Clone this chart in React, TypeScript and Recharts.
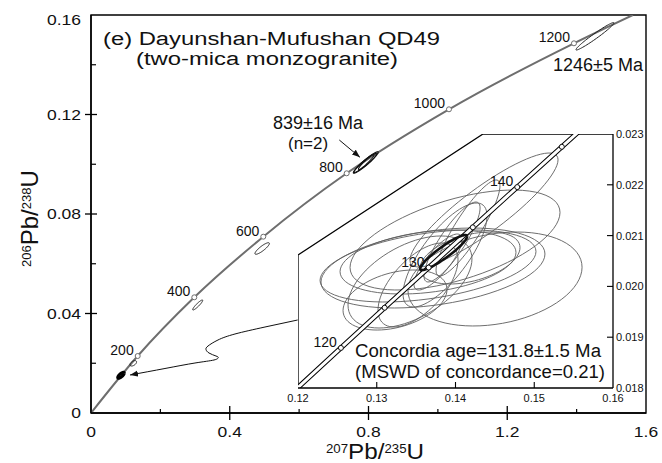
import React from 'react';
import { ComposedChart, Line, Scatter, XAxis, YAxis, ReferenceArea } from 'recharts';

const FONT = '"Liberation Sans", Arial, Helvetica, sans-serif';
const W = 662;
const H = 463;

// ---- main diagram: concordia as drawn, with its age marks ----
const curveX = [0, 0.1346, 0.2978, 0.4967, 0.7371, 1.032, 1.3923, 1.5624];
const curveY = [0, 0.02291, 0.04651, 0.07088, 0.09636, 0.12209, 0.14862, 0.16];
const curveAges = [null, 200, 400, 600, 800, 1000, 1200, null];

// error ellipses: [207/235, 206/238, sigma x, sigma y, rho]
const mainSpots = [
  [0.1219, 0.01998, 0.0095, 0.00109, 0.5],
  [0.3076, 0.04342, 0.0144, 0.00201, 0.92],
  [0.4935, 0.06613, 0.0208, 0.00233, 0.87],
  [1.4529, 0.15144, 0.0548, 0.00551, 0.974],
];
const group839 = [
  [0.7922, 0.1007, 0.036, 0.00434, 0.955],
  [0.787, 0.1003, 0.0288, 0.00362, 0.95],
  [0.797, 0.1011, 0.0259, 0.00322, 0.94],
];
const youngCluster = [0.0865, 0.01516, 0.0095, 0.0012, 0.75];

// pointer from the inset down to the young cluster
const pointerX = [0.5958, 0.5016, 0.4151, 0.3661, 0.3373, 0.3315, 0.3402, 0.3603, 0.367, 0.3546, 0.2998, 0.2133, 0.1124];
const pointerY = [0.03739, 0.03457, 0.03176, 0.02935, 0.02693, 0.02553, 0.02412, 0.02291, 0.02231, 0.02131, 0.0201, 0.01789, 0.01528];
const noteArrowX = [0.7158, 0.7754];
const noteArrowY = [0.10975, 0.10279];

const xTicks = [0, 0.2, 0.4, 0.6, 0.8, 1.0, 1.2, 1.4, 1.6];
const yTicks = [0, 0.02, 0.04, 0.06, 0.08, 0.1, 0.12, 0.14, 0.16];

// ---- inset ----
const insetAges = [115, 120, 125, 130, 135, 140, 145, 150];
const insetX = [0.11992, 0.12545, 0.131, 0.13659, 0.1422, 0.14784, 0.1535, 0.1592];
const insetY = [0.017999, 0.018789, 0.01958, 0.020371, 0.021163, 0.021955, 0.022748, 0.023541];
const insetLabelled = [120, 130, 140];

const insetSpots = [
  [0.14502, 0.020146, 0.01105, 0.000925, 0.25],
  [0.13714, 0.020362, 0.01422, 0.000787, 0.35],
  [0.13651, 0.020402, 0.01371, 0.000709, 0.4],
  [0.14362, 0.021504, 0.0094, 0.001122, 0.88],
  [0.13994, 0.020913, 0.01333, 0.000984, 0.55],
  [0.13651, 0.02048, 0.01117, 0.00063, 0.3],
  [0.13422, 0.020087, 0.00787, 0.000906, 0.5],
  [0.13867, 0.020618, 0.00533, 0.001024, 0.75],
  [0.13524, 0.020028, 0.00508, 0.000827, 0.6],
  [0.13956, 0.020874, 0.00356, 0.000787, 0.85],
  [0.14159, 0.02115, 0.00406, 0.000945, 0.88],
  [0.13232, 0.019732, 0.0066, 0.000591, 0.35],
  [0.14184, 0.020559, 0.00635, 0.000512, 0.4],
  [0.13778, 0.02048, 0.00305, 0.000551, 0.8],
];
const concordiaAge = [0.1385, 0.020667, 0.00298, 0.000345, 0.92];

const frameX = [0.12, 0.12, 0.14349, 0.16];
const frameY = [0.018, 0.020618, 0.023, 0.023];
const insetXTicks = [0.12, 0.13, 0.14, 0.15, 0.16];
const insetYTicks = [0.018, 0.019, 0.02, 0.021, 0.022, 0.023];

const zip = (xs: number[], ys: number[]) => xs.map((x, i) => ({ x, y: ys[i] }));

// sample an error ellipse outline in data space
const outline = ([x, y, sx, sy, rho]: number[]) => {
  const k = Math.sqrt(1 - rho * rho);
  return Array.from({ length: 73 }, (_, i) => {
    const t = (i / 72) * 2 * Math.PI;
    return { x: x + sx * Math.cos(t), y: y + sy * (rho * Math.cos(t) + k * Math.sin(t)) };
  });
};

const isMult = (v: number, step: number) => Math.abs(v / step - Math.round(v / step)) < 1e-6;

const MainXTick = ({ x, y, payload }: any) => {
  const v = payload.value;
  const major = isMult(v, 0.4);
  const edge = v === 0 || v === 1.6;
  return (
    <g>
      {!edge && (major
        ? <line x1={x} x2={x} y1={y - 7} y2={y + 7} stroke="#000" strokeWidth={1.3} />
        : <line x1={x} x2={x} y1={y - 4} y2={y} stroke="#000" strokeWidth={1.2} />)}
      {major && (
        <text transform={`translate(${x} ${y + 23.5}) scale(1.25 1)`} textAnchor="middle" fontSize={14} fontFamily={FONT} fill="#111">
          {String(v)}
        </text>
      )}
    </g>
  );
};

const MainYTick = ({ x, y, payload }: any) => {
  const v = payload.value;
  const major = isMult(v, 0.04);
  const edge = v === 0 || v === 0.16;
  return (
    <g>
      {!edge && (major
        ? <line x1={x - 6} x2={x + 6} y1={y} y2={y} stroke="#000" strokeWidth={1.3} />
        : <line x1={x} x2={x + 5} y1={y} y2={y} stroke="#000" strokeWidth={1.2} />)}
      {major && (
        <text transform={`translate(${x - 10} ${Math.max(y, 20) + 5}) scale(1.25 1)`} textAnchor="end" fontSize={14} fontFamily={FONT} fill="#111">
          {String(v)}
        </text>
      )}
    </g>
  );
};

const InsetXTick = ({ x, y, payload }: any) => {
  const v = payload.value;
  const edge = v === 0.12 || v === 0.16;
  return (
    <g>
      {!edge && <line x1={x} x2={x} y1={y - 6} y2={y} stroke="#000" strokeWidth={1.1} />}
      <text x={x} y={y + 14} textAnchor="middle" fontSize={11} fontFamily={FONT} fill="#111">
        {v.toFixed(2)}
      </text>
    </g>
  );
};

const InsetYTick = ({ x, y, payload }: any) => {
  const v = payload.value;
  const edge = v === 0.018 || v === 0.023;
  return (
    <g>
      {!edge && <line x1={x - 6} x2={x} y1={y} y2={y} stroke="#000" strokeWidth={1.1} />}
      <text x={x + 3} y={y + 4} fontSize={11} fontFamily={FONT} fill="#111">
        {v.toFixed(3)}
      </text>
    </g>
  );
};

const AgeMark = ({ cx, cy, payload, stroke, labelled }: any) => (
  <g>
    <circle cx={cx} cy={cy} r={2.5} fill="#fff" stroke={stroke} strokeWidth={1} />
    {labelled && (
      <text x={cx - 4} y={cy - 1} textAnchor="end" fontSize={14} fontFamily={FONT} fill="#111">
        {payload.age}
      </text>
    )}
  </g>
);

const ring = (e: number[], key: string, stroke: string, width: number) => (
  <Line
    key={key}
    data={outline(e)}
    dataKey="y"
    type="linear"
    stroke={stroke}
    strokeWidth={width}
    dot={false}
    activeDot={false}
    legendType="none"
    isAnimationActive={false}
  />
);

const MainChart = () => {
  const curve = zip(curveX, curveY);
  const marks = curve.map((p, i) => ({ ...p, age: curveAges[i] })).filter((p) => p.age !== null);
  return (
    <ComposedChart width={W} height={H} margin={{ top: 15, right: 16, bottom: 0, left: 0 }}>
      <XAxis
        type="number"
        dataKey="x"
        domain={[0, 1.6]}
        ticks={xTicks}
        interval={0}
        allowDataOverflow
        height={50}
        tickSize={0}
        tickMargin={0}
        tickLine={false}
        axisLine={{ stroke: '#000', strokeWidth: 1.4 }}
        tick={(p: any) => <MainXTick {...p} />}
      />
      <YAxis
        type="number"
        dataKey="y"
        domain={[0, 0.16]}
        ticks={yTicks}
        interval={0}
        allowDataOverflow
        width={91}
        tickSize={0}
        tickMargin={0}
        tickLine={false}
        axisLine={{ stroke: '#000', strokeWidth: 1.4 }}
        tick={(p: any) => <MainYTick {...p} />}
      />
      <ReferenceArea x1={0} x2={1.6} y1={0} y2={0.16} fill="none" fillOpacity={0} stroke="#000" strokeWidth={1.4} />
      <Line data={curve} dataKey="y" type="monotone" stroke="#6e6e6e" strokeWidth={2} dot={false} activeDot={false} isAnimationActive={false} />
      {mainSpots.map((e, i) => ring(e, `m${i}`, '#222', 1))}
      {group839.map((e, i) => ring(e, `g${i}`, '#111', 1.1))}
      {ring(youngCluster, 'young', '#000', 3)}
      <Line
        data={zip(pointerX, pointerY)}
        dataKey="y"
        type="natural"
        stroke="#111"
        strokeWidth={1}
        dot={false}
        activeDot={false}
        markerEnd="url(#arrowHead)"
        isAnimationActive={false}
      />
      <Line
        data={zip(noteArrowX, noteArrowY)}
        dataKey="y"
        type="linear"
        stroke="#111"
        strokeWidth={1}
        dot={false}
        activeDot={false}
        markerEnd="url(#arrowHead)"
        isAnimationActive={false}
      />
      <Scatter
        data={marks}
        isAnimationActive={false}
        shape={(p: any) => <AgeMark {...p} stroke="#6e6e6e" labelled />}
      />
    </ComposedChart>
  );
};

const InsetChart = () => {
  const conc = zip(insetX, insetY);
  const marks = conc
    .map((p, i) => ({ ...p, age: insetAges[i] }))
    .filter((p) => p.age >= 120 && p.age <= 145);
  return (
    <ComposedChart width={W} height={H} margin={{ top: 134, right: 0, bottom: 0, left: 298 }}>
      <XAxis
        type="number"
        dataKey="x"
        domain={[0.12, 0.16]}
        ticks={insetXTicks}
        interval={0}
        allowDataOverflow
        height={75}
        tickSize={0}
        tickMargin={0}
        tickLine={false}
        axisLine={{ stroke: '#000', strokeWidth: 1.3 }}
        tick={(p: any) => <InsetXTick {...p} />}
      />
      <YAxis
        type="number"
        dataKey="y"
        orientation="right"
        domain={[0.018, 0.023]}
        ticks={insetYTicks}
        interval={0}
        allowDataOverflow
        width={49}
        tickSize={0}
        tickMargin={0}
        tickLine={false}
        axisLine={{ stroke: '#000', strokeWidth: 1.3 }}
        tick={(p: any) => <InsetYTick {...p} />}
      />
      <Line data={zip(frameX, frameY)} dataKey="y" type="linear" stroke="#000" strokeWidth={1.3} dot={false} activeDot={false} isAnimationActive={false} />
      {insetSpots.map((e, i) => ring(e, `i${i}`, '#5e5e5e', 0.9))}
      <Line data={conc} dataKey="y" type="linear" stroke="#000" strokeWidth={5} dot={false} activeDot={false} isAnimationActive={false} />
      <Line data={conc} dataKey="y" type="linear" stroke="#fff" strokeWidth={3} dot={false} activeDot={false} isAnimationActive={false} />
      {ring(concordiaAge, 'mean', '#111', 2.6)}
      <Scatter
        data={marks}
        isAnimationActive={false}
        shape={(p: any) => <AgeMark {...p} stroke="#111" labelled={insetLabelled.includes(p.payload.age)} />}
      />
    </ComposedChart>
  );
};

const Notes = () => (
  <svg width={W} height={H} style={{ position: 'absolute', left: 0, top: 0, pointerEvents: 'none' }} fontFamily={FONT} fill="#111">
    <defs>
      <marker id="arrowHead" viewBox="0 0 10 10" refX="10" refY="5" markerWidth="8" markerHeight="8" markerUnits="userSpaceOnUse" orient="auto">
        <path d="M0,1.2 L10,5 L0,8.8 z" fill="#111" />
      </marker>
    </defs>
    <text x={103} y={45} fontSize={18} textLength={337} lengthAdjust="spacingAndGlyphs">(e) Dayunshan-Mufushan QD49</text>
    <text x={136} y={64.5} fontSize={18} textLength={262} lengthAdjust="spacingAndGlyphs">(two-mica monzogranite)</text>
    <text x={273} y={128.5} fontSize={18}>839±16 Ma</text>
    <text x={288} y={148.5} fontSize={17}>(n=2)</text>
    <text x={553} y={70.5} fontSize={18}>1246±5 Ma</text>
    <text x={355} y={357.3} fontSize={18} textLength={246} lengthAdjust="spacingAndGlyphs">Concordia age=131.8±1.5 Ma</text>
    <text x={355} y={378} fontSize={18} textLength={250} lengthAdjust="spacingAndGlyphs">(MSWD of concordance=0.21)</text>
    <text x={326} y={458.5} fontSize={22} textLength={98} lengthAdjust="spacingAndGlyphs">
      <tspan fontSize={12} dy={-6}>207</tspan>
      <tspan dy={6}>Pb/</tspan>
      <tspan fontSize={12} dy={-6}>235</tspan>
      <tspan dy={6}>U</tspan>
    </text>
    <text transform="translate(38 267) rotate(-90)" fontSize={24}>
      <tspan fontSize={13} dy={-7}>206</tspan>
      <tspan dy={7}>Pb/</tspan>
      <tspan fontSize={13} dy={-7}>238</tspan>
      <tspan dy={7}>U</tspan>
    </text>
  </svg>
);

export default function App() {
  return (
    <div style={{ position: 'absolute', left: 0, top: 0, width: W, height: H, background: '#fff' }}>
      <div style={{ position: 'absolute', left: 0, top: 0 }}>
        <MainChart />
      </div>
      <div style={{ position: 'absolute', left: 0, top: 0 }}>
        <InsetChart />
      </div>
      <Notes />
    </div>
  );
}
